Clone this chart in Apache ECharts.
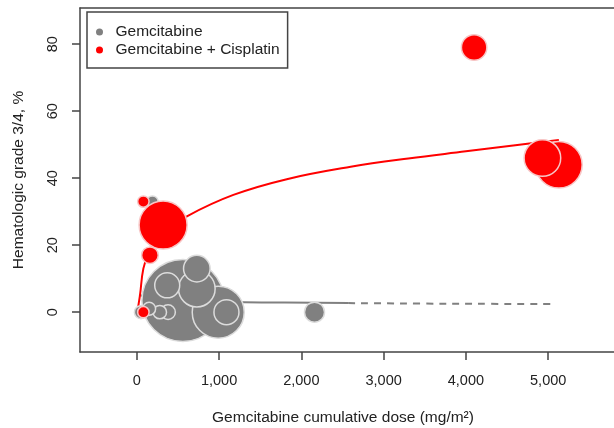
<!DOCTYPE html>
<html>
<head>
<meta charset="utf-8">
<script src="https://cdn.jsdelivr.net/npm/echarts@6/dist/echarts.min.js"></script>
<style>html,body{margin:0;padding:0;background:#fff}#c{width:614px;height:428px}</style>
</head>
<body>
<div id="c"></div>
<script>
// tick labels
const doseTicks = [0, 1000, 2000, 3000, 4000, 5000];
const gradeTicks = [0, 20, 40, 60, 80];

// Gemcitabine studies: dose, grade 3/4 %, bubble size (radius units)
const gemDose  = [560, 990, 730, 730, 370, 1090, 2160, 380, 280, 150, 50, 190];
const gemGrade = [3.5, 0, 7, 13, 8, 0, 0, 0, 0, 1, 0, 33];
const gemSize  = [41, 26, 18.3, 13.3, 12.5, 12.5, 10, 7.3, 6.7, 6.5, 6.5, 5.7];

// Gemcitabine + Cisplatin studies
const cisDose  = [320, 5130, 4930, 4100, 160, 80, 80];
const cisGrade = [26, 44, 46, 79, 17, 33, 0];
const cisSize  = [24, 23.3, 18.3, 12.7, 8.3, 5.7, 5.7];

// fitted curves
const cisFitDose  = [10, 20, 40, 80, 150, 300, 615, 1174, 1823, 2600, 3300, 4000, 4600, 5130];
const cisFitGrade = [0, 2, 5.2, 13, 18, 23.5, 28.7, 35, 39.7, 43.4, 45.9, 48.0, 49.8, 51.4];
const gemFitDose  = [30, 200, 600, 1090, 1800, 2569];
const gemFitGrade = [5.2, 4.0, 3.4, 3.0, 2.85, 2.7];
const gemExtDose  = [2569, 3500, 4300, 5085];
const gemExtGrade = [2.7, 2.55, 2.47, 2.4];

const zip3 = (a, b, c) => a.map((v, i) => [v, b[i], c[i]]);
const zip2 = (a, b) => a.map((v, i) => [v, b[i]]);

const FONT = "'Liberation Sans', Arial, sans-serif";
const TXT = '#222';
const AX = '#444';

const chart = echarts.init(document.getElementById('c'), null, {renderer: 'canvas'});
chart.setOption({
  animation: false,
  textStyle: {fontFamily: FONT},
  grid: {left: 80, right: 0, top: 8, bottom: 76, containLabel: false, outerBoundsMode: 'none'},
  legend: {
    orient: 'vertical', left: 87, top: 12,
    padding: [11, 8, 9, 9],
    itemGap: 0, itemWidth: 22, itemHeight: 7, icon: 'circle',
    borderColor: AX, borderWidth: 1.5,
    textStyle: {fontFamily: FONT, fontSize: 15.5, color: TXT, lineHeight: 18},
    itemStyle: {borderWidth: 0},
    data: ['Gemcitabine', 'Gemcitabine + Cisplatin']
  },
  xAxis: [{
    type: 'value', position: 'bottom', min: -690, max: 5800,
    name: 'Gemcitabine cumulative dose (mg/m²)', nameLocation: 'middle', nameGap: 58,
    nameTextStyle: {fontFamily: FONT, fontSize: 15.5, color: TXT, padding: [0, 8, 0, 0]},
    axisLine: {show: true, onZero: false, lineStyle: {color: AX, width: 1.5}},
    axisTick: {show: true, length: 8, inside: false, customValues: doseTicks, lineStyle: {color: AX, width: 1.5}},
    axisLabel: {customValues: doseTicks, margin: 21, fontSize: 14.5, color: TXT, fontFamily: FONT,
      formatter: v => Number(v).toLocaleString('en-US')},
    splitLine: {show: false}
  }, {
    type: 'value', position: 'top', min: -690, max: 5800,
    axisLine: {show: true, onZero: false, lineStyle: {color: AX, width: 1.5}},
    axisTick: {show: false}, axisLabel: {show: false}, splitLine: {show: false}
  }],
  yAxis: {
    type: 'value', min: -11.9, max: 90.8,
    name: 'Hematologic grade 3/4, %', nameLocation: 'middle', nameGap: 53,
    nameTextStyle: {fontFamily: FONT, fontSize: 15.5, color: TXT},
    axisLine: {show: true, onZero: false, lineStyle: {color: AX, width: 1.5}},
    axisTick: {show: true, length: 8, customValues: gradeTicks, lineStyle: {color: AX, width: 1.5}},
    axisLabel: {customValues: gradeTicks, rotate: 90, margin: 20, fontSize: 14.5, color: TXT, fontFamily: FONT},
    splitLine: {show: false}
  },
  series: [
    {type: 'line', name: 'gemfit', data: zip2(gemFitDose, gemFitGrade), smooth: true, symbol: 'none',
      lineStyle: {color: '#808080', width: 2}, silent: true, z: 2},
    {type: 'line', name: 'gemext', data: zip2(gemExtDose, gemExtGrade), smooth: true, symbol: 'none',
      lineStyle: {color: '#808080', width: 2, type: [7, 6]}, silent: true, z: 2},
    {type: 'line', name: 'cisfit', data: zip2(cisFitDose, cisFitGrade), smooth: 0.4, symbol: 'none',
      lineStyle: {color: '#ff0000', width: 2}, silent: true, z: 2},
    {type: 'scatter', name: 'Gemcitabine', data: zip3(gemDose, gemGrade, gemSize),
      symbol: 'circle', symbolSize: d => d[2] * 2,
      itemStyle: {color: '#808080', borderColor: '#dcdcdc', borderWidth: 1.5, opacity: 1},
      emphasis: {disabled: true}, z: 3},
    {type: 'scatter', name: 'Gemcitabine + Cisplatin', data: zip3(cisDose, cisGrade, cisSize),
      symbol: 'circle', symbolSize: d => d[2] * 2,
      itemStyle: {color: '#ff0000', borderColor: '#f7c6c6', borderWidth: 1.5, opacity: 1},
      emphasis: {disabled: true}, z: 4}
  ]
});
</script>
</body>
</html>
